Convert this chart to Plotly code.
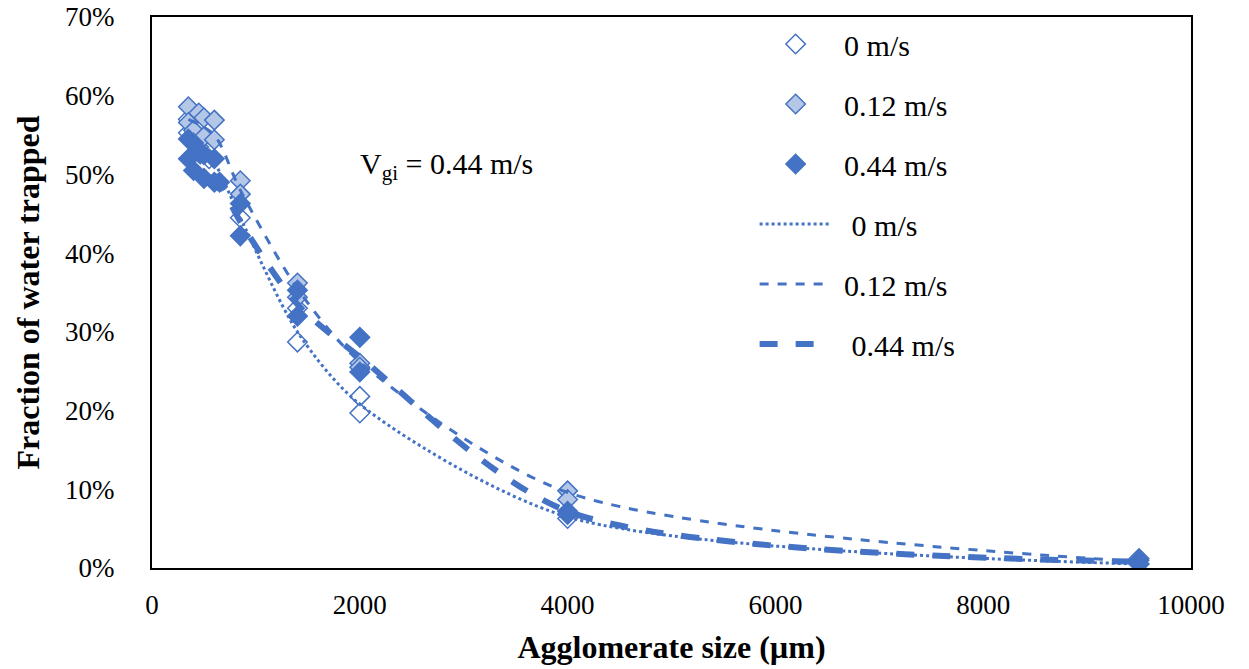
import plotly.graph_objects as go

# ---- measured points (agglomerate size in µm, fraction trapped) ----
x_0 = [350, 350, 400, 450, 550, 850, 1400, 1400, 2000, 2000, 4000, 9500]
y_0 = [0.570, 0.553, 0.548, 0.535, 0.520, 0.445, 0.330, 0.287, 0.218, 0.197, 0.063, 0.005]

x_012 = [350, 350, 400, 450, 500, 500, 600, 600, 850, 850, 1400, 1400, 2000, 2000, 4000, 4000, 9500]
y_012 = [0.586, 0.566, 0.556, 0.578, 0.572, 0.548, 0.569, 0.544, 0.492, 0.475, 0.362, 0.344, 0.260, 0.255, 0.098, 0.087, 0.012]

x_044 = [350, 350, 400, 400, 450, 500, 500, 600, 600, 650, 850, 850, 1400, 1400, 2000, 2000, 4000, 4000, 9500, 9500]
y_044 = [0.520, 0.545, 0.505, 0.540, 0.530, 0.495, 0.525, 0.490, 0.520, 0.490, 0.463, 0.422, 0.353, 0.320, 0.293, 0.249, 0.072, 0.068, 0.010, 0.005]

# ---- fitted curves ----
fit_x = [350, 600, 850, 1400, 2000, 4000, 9500]
fit_0 = [0.555, 0.515, 0.445, 0.300, 0.208, 0.065, 0.005]
fit_012 = [0.570, 0.550, 0.480, 0.355, 0.262, 0.096, 0.008]
fit_044 = [0.530, 0.500, 0.440, 0.335, 0.268, 0.072, 0.008]

x_ticks = [0, 2000, 4000, 6000, 8000, 10000]
y_ticks = [0, 0.1, 0.2, 0.3, 0.4, 0.5, 0.6, 0.7]

BLUE = "#4472C4"
LIGHT = "#B4C7E7"
FONT = "Liberation Serif"
NB = "\u00a0"

fig = go.Figure()

marker_sets = [
    ("0 m/s", x_0, y_0, "white", 1),
    ("0.12 m/s", x_012, y_012, LIGHT, 1),
    ("0.44 m/s", x_044, y_044, BLUE, 1),
]
for i, (name, xs, ys, fill, pad) in enumerate(marker_sets):
    fig.add_trace(go.Scatter(
        x=xs, y=ys, mode="markers", name=NB * pad + name, legendgroup=f"m{i}",
        marker=dict(symbol="diamond", size=15, color=fill,
                    line=dict(color=BLUE, width=1.5)),
    ))

line_sets = [
    ("0 m/s", fit_0, "dot", 3, 2),
    ("0.12 m/s", fit_012, "dash", 3, 1),
    ("0.44 m/s", fit_044, "dash", 6, 2),
]
for i, (name, ys, dash, w, pad) in enumerate(line_sets):
    fig.add_trace(go.Scatter(
        x=fit_x, y=ys, mode="lines", name=NB * pad + name, legendgroup=f"l{i}",
        line=dict(color=BLUE, width=w, dash=dash, shape="spline", smoothing=0.8),
    ))

fig.add_annotation(
    x=0.198, y=0.73, xref="paper", yref="paper", xanchor="left", yanchor="middle",
    text="V<sub>gi</sub> = 0.44 m/s", showarrow=False,
    font=dict(family=FONT, size=30, color="black"),
)

fig.update_layout(
    width=1249, height=669,
    margin=dict(l=152, r=58, t=17, b=101, autoexpand=False),
    paper_bgcolor="white", plot_bgcolor="white",
    font=dict(family=FONT, size=27, color="black"),
    showlegend=True,
    legend=dict(
        x=0.58, y=0.973, xanchor="left", yanchor="top", yref="container",
        bgcolor="rgba(0,0,0,0)", font=dict(family=FONT, size=30),
        tracegroupgap=18, itemwidth=72, maxheight=640,
    ),
    xaxis=dict(
        range=[0, 10000], tickvals=x_ticks, ticktext=[str(v) for v in x_ticks],
        showgrid=False, zeroline=False, showline=True, linecolor="black",
        linewidth=2, mirror=True, ticks="outside", ticklen=12,
        tickcolor="rgba(0,0,0,0)",
        title=dict(text="<b>Agglomerate size (µm)</b>", font=dict(family=FONT, size=32), standoff=16),
    ),
    yaxis=dict(
        range=[0, 0.7], tickvals=y_ticks, tickformat=".0%",
        showgrid=False, zeroline=False, showline=True, linecolor="black",
        linewidth=2, mirror=True, ticks="outside", ticklen=30,
        tickcolor="rgba(0,0,0,0)",
        title=dict(text="<b>Fraction of water trapped</b>", font=dict(family=FONT, size=32), standoff=16),
    ),
)

fig.write_html("out.html")
